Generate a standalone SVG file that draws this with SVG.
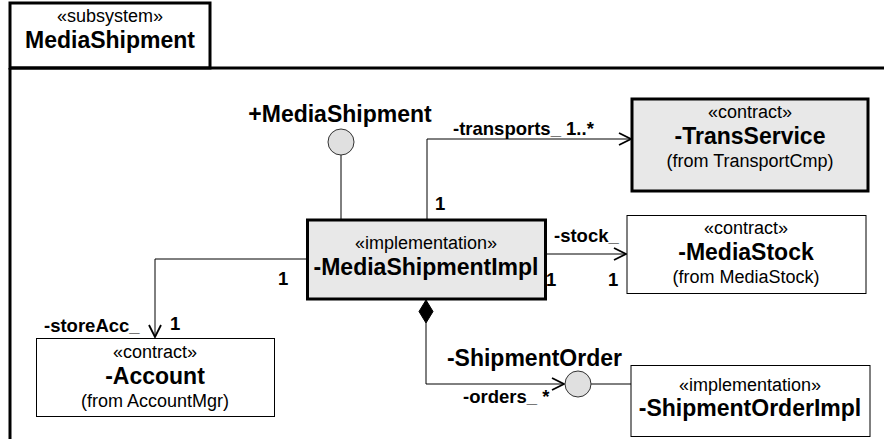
<svg xmlns="http://www.w3.org/2000/svg" width="884" height="439" viewBox="0 0 884 439">
<defs>
<style>
.st{font-family:"Liberation Sans",Arial,sans-serif;font-size:18px;fill:#000}
.nm{font-family:"Liberation Sans",Arial,sans-serif;font-size:23px;font-weight:bold;fill:#000}
.lb{font-family:"Liberation Sans",Arial,sans-serif;font-size:18.5px;font-weight:bold;fill:#000}
.thick{fill:#e8e8e8;stroke:#000;stroke-width:3}
.thin{fill:#fff;stroke:#000;stroke-width:1}
.ln{fill:none;stroke:#000;stroke-width:1}
.lol{fill:#e0e0e0;stroke:#333;stroke-width:1}
</style>
<marker id="open" viewBox="0 0 14 14" refX="13" refY="7" markerWidth="14" markerHeight="14" markerUnits="userSpaceOnUse" orient="auto">
<path d="M1,1 L13,7 L1,13" fill="none" stroke="#000" stroke-width="1.8"/>
</marker>
</defs>

<g id="frame">
<rect x="10" y="3" width="200" height="65" fill="#fff" stroke="#000" stroke-width="3"/>
<path d="M10,68 L884,68 M10,68 L10,439" fill="none" stroke="#000" stroke-width="3"/>
<text class="st" x="110" y="22" text-anchor="middle">«subsystem»</text>
<text class="nm" x="110" y="48" text-anchor="middle">MediaShipment</text>
</g>

<g id="connectors">
<path class="ln" d="M427,219 L427,139 L631,139" marker-end="url(#open)"/>
<path class="ln" d="M546,254 L626,254" marker-end="url(#open)"/>
<path class="ln" d="M307,259 L155,259 L155,337" marker-end="url(#open)"/>
<path class="ln" d="M426,323 L426,384 L564,384" marker-end="url(#open)"/>
<path d="M426,300 L433,311.5 L426,323 L419,311.5 Z" fill="#000" stroke="#000" stroke-width="1"/>
<line class="ln" x1="341" y1="155" x2="341" y2="219"/>
<line class="ln" x1="591" y1="384" x2="631" y2="384"/>
<text class="lb" x="453" y="135">-transports_ 1..*</text>
<text class="lb" x="435" y="210">1</text>
<text class="lb" x="554" y="242">-stock_</text>
<text class="lb" x="546" y="286">1</text>
<text class="lb" x="608" y="286">1</text>
<text class="lb" x="278" y="285">1</text>
<text class="lb" x="44" y="332">-storeAcc_</text>
<text class="lb" x="170" y="330">1</text>
<text class="lb" x="463" y="403">-orders_ *</text>
</g>

<g id="MediaShipmentPort">
<circle class="lol" cx="341" cy="142" r="13"/>
<text class="nm" x="340" y="122" text-anchor="middle">+MediaShipment</text>
</g>

<g id="ShipmentOrderPort">
<circle class="lol" cx="578" cy="384" r="13"/>
<text class="nm" x="622" y="366" text-anchor="end">-ShipmentOrder</text>
</g>

<g id="MediaShipmentImpl">
<rect class="thick" x="307.5" y="220" width="238" height="79"/>
<text class="st" x="426" y="249" text-anchor="middle">«implementation»</text>
<text class="nm" x="426" y="275" text-anchor="middle">-MediaShipmentImpl</text>
</g>

<g id="TransService">
<rect class="thick" x="632" y="99" width="236" height="92"/>
<text class="st" x="750" y="118" text-anchor="middle">«contract»</text>
<text class="nm" x="750" y="144" text-anchor="middle">-TransService</text>
<text class="st" x="750" y="167" text-anchor="middle">(from TransportCmp)</text>
</g>

<g id="MediaStock">
<rect class="thin" x="627" y="215.5" width="239" height="78"/>
<text class="st" x="746" y="234" text-anchor="middle">«contract»</text>
<text class="nm" x="746" y="260" text-anchor="middle">-MediaStock</text>
<text class="st" x="746" y="283" text-anchor="middle">(from MediaStock)</text>
</g>

<g id="Account">
<rect class="thin" x="36.5" y="338.5" width="238" height="78"/>
<text class="st" x="155" y="358" text-anchor="middle">«contract»</text>
<text class="nm" x="155" y="384" text-anchor="middle">-Account</text>
<text class="st" x="155" y="407" text-anchor="middle">(from AccountMgr)</text>
</g>

<g id="ShipmentOrderImpl">
<rect class="thin" x="631" y="365.5" width="239" height="71"/>
<text class="st" x="750" y="391" text-anchor="middle">«implementation»</text>
<text class="nm" x="750" y="416" text-anchor="middle">-ShipmentOrderImpl</text>
</g>
</svg>
